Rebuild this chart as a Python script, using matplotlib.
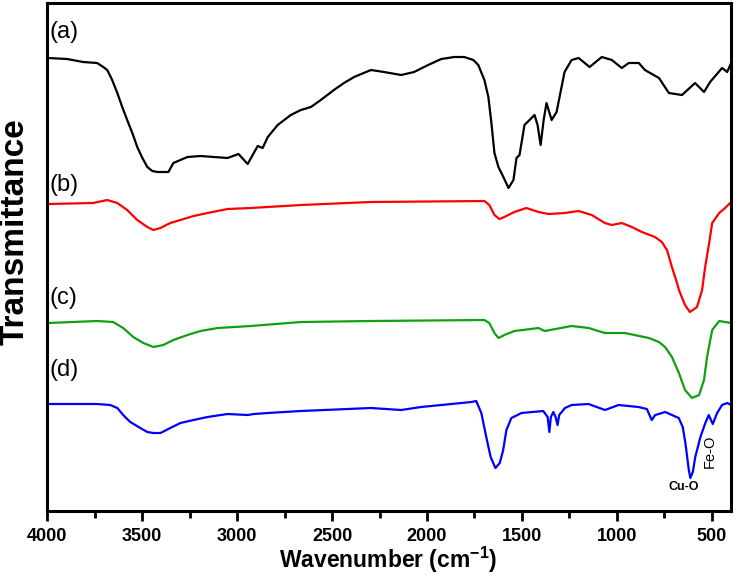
#espectros FTIR
import numpy as np
import matplotlib.pyplot as plt

plt.rcParams['font.family'] = ['Liberation Sans', 'DejaVu Sans']
plt.rcParams['font.weight'] = 'bold'
plt.rcParams['mathtext.fontset'] = 'custom'
plt.rcParams['mathtext.rm'] = 'Liberation Sans'
plt.rcParams['mathtext.bf'] = 'Liberation Sans:bold'

#Datos (numero de onda en cm-1, transmitancia en unidades arbitrarias)
wn_a = [3995, 3894, 3810, 3736, 3704, 3683, 3657, 3630, 3604, 3578, 3551, 3525, 3498, 3472,
        3446, 3419, 3361, 3335, 3261, 3192, 3050, 2992, 2944, 2891, 2865, 2838, 2786, 2717,
        2664, 2611, 2559, 2490, 2437, 2384, 2295, 2226, 2136, 2068, 1994, 1925, 1856, 1804,
        1756, 1730, 1698, 1677, 1661, 1645, 1624, 1598, 1571, 1545, 1529, 1513, 1487, 1434,
        1418, 1402, 1386, 1371, 1344, 1318, 1276, 1239, 1202, 1144, 1080, 1027, 975, 938,
        885, 853, 779, 727, 658, 589, 542, 510, 447, 420, 399]
t_a = [542, 541, 538, 537, 533, 530, 520, 507, 493, 480, 467, 453, 442, 433,
       429, 428, 428, 437, 443, 444, 442, 446, 436, 454, 452, 463, 475, 485,
       490, 493, 500, 510, 517, 523, 530, 528, 525, 528, 535, 541, 543, 543,
       540, 535, 520, 503, 477, 447, 433, 423, 412, 420, 442, 445, 475, 485,
       475, 455, 480, 497, 480, 488, 528, 540, 542, 533, 543, 540, 532, 537,
       537, 530, 522, 507, 505, 517, 508, 518, 532, 528, 537]

wn_b = [3995, 3758, 3683, 3630, 3578, 3525, 3472, 3440, 3403, 3351, 3298, 3229, 3155, 3050,
        2928, 2664, 2295, 1698, 1672, 1645, 1619, 1593, 1540, 1477, 1413, 1360, 1276, 1202,
        1133, 1064, 1027, 975, 922, 869, 800, 764, 737, 711, 684, 674, 642, 616, 579, 552,
        536, 515, 499, 462, 431, 399]
t_b = [396, 397, 400, 397, 390, 380, 373, 370, 372, 377, 380, 384, 387, 391,
       392, 395, 398, 399, 395, 385, 381, 383, 388, 392, 388, 386, 387, 389,
       385, 377, 375, 377, 373, 368, 363, 358, 350, 333, 317, 310, 295, 288, 293, 310,
       333, 357, 377, 387, 392, 398]

wn_c = [3995, 3736, 3652, 3599, 3546, 3493, 3440, 3388, 3335, 3261, 3192, 3102, 2928, 2664,
        2295, 1698, 1672, 1645, 1624, 1593, 1540, 1413, 1381, 1239, 1149, 1064, 959, 832,
        779, 747, 711, 674, 642, 605, 568, 542, 526, 499, 462, 399]
t_c = [277, 279, 278, 272, 263, 257, 253, 255, 260, 265, 269, 272, 274, 278,
       279, 280, 277, 267, 262, 265, 269, 272, 269, 274, 272, 267, 267, 262,
       258, 253, 243, 227, 210, 202, 205, 220, 243, 270, 279, 277]

wn_d = [3995, 3736, 3667, 3630, 3599, 3562, 3509, 3472, 3440, 3403, 3351, 3298, 3229, 3155,
        3050, 2944, 2912, 2838, 2664, 2295, 2136, 2031, 1767, 1741, 1714, 1688, 1665, 1640,
        1617, 1599, 1582, 1556, 1503, 1388, 1365, 1356, 1348, 1335, 1323, 1313, 1304, 1274,
        1239, 1150, 1063, 992, 887, 843, 817, 799, 746, 675, 654, 640, 622, 614, 601, 588,
        561, 535, 517, 496, 473, 447, 420, 398]
t_d = [196, 196, 195, 192, 185, 178, 172, 168, 167, 167, 172, 177, 180, 183,
       186, 185, 186, 187, 189, 192, 190, 193, 198, 199, 187, 163, 143, 132,
       137, 150, 170, 182, 187, 189, 183, 168, 183, 188, 183, 175, 185, 192,
       195, 196, 190, 195, 193, 191, 180, 185, 188, 182, 173, 157, 130, 122, 128, 143,
       163, 177, 185, 176, 187, 195, 197, 195]

etiquetas = ['(a)', '(b)', '(c)', '(d)']
colores = ['black', 'red', '#10a010', 'blue']
x_ticks = [4000, 3500, 3000, 2500, 2000, 1500, 1000, 500]

#Graficar
fig = plt.figure(figsize=(7.38, 5.78), dpi=100)
ax = fig.add_axes([0.0637, 0.1159, 0.9268, 0.8789])

for wn, t, col in zip([wn_a, wn_b, wn_c, wn_d], [t_a, t_b, t_c, t_d], colores):
    ax.plot(wn, t, color=col, lw=1.6)

ax.set_xlim(4000, 400)
ax.set_ylim(89, 597)
ax.set_yticks([])
ax.set_xticks(x_ticks)
ax.set_xticks(np.arange(3750, 400, -500), minor=True)
ax.tick_params(axis='x', which='major', direction='out', length=7, width=2, pad=5, labelsize=13)
ax.tick_params(axis='x', which='minor', direction='out', length=5, width=2)
for sp in ax.spines.values():
    sp.set_linewidth(2.2)

fig.text(388 / 738, 1 - 568 / 578, 'Wavenumber (cm$^{\\mathbf{-1}}$)', fontsize=16.5,
         fontweight='bold', ha='center', va='baseline')
fig.text(15 / 738, 1 - 232 / 578, 'Transmittance', fontsize=24, fontweight='bold',
         rotation=90, ha='center', va='center')

#Etiquetas de cada espectro
y_etiq = [568, 415, 302, 230]
for txt, ye in zip(etiquetas, y_etiq):
    ax.text(3985, ye, txt, fontsize=17, fontweight='normal', va='center', ha='left')

ax.text(647, 113, 'Cu-O', fontsize=9, fontweight='bold', ha='center', va='center')
ax.text(510, 149, 'Fe-O', fontsize=10.5, fontweight='normal', rotation=90, ha='center', va='center')

plt.savefig('out.png', dpi=100)
